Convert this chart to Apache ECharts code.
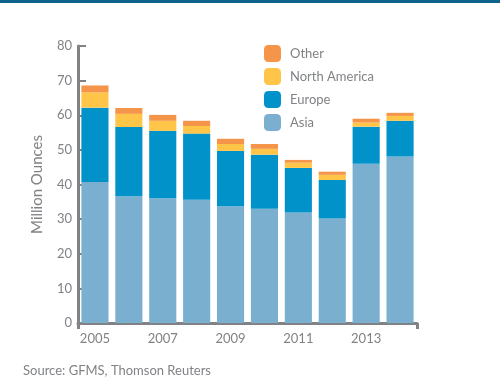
<!DOCTYPE html>
<html>
<head>
<meta charset="utf-8">
<script src="https://cdn.jsdelivr.net/npm/echarts@6/dist/echarts.min.js"></script>
<style>html,body{margin:0;padding:0;background:#fff}#c{width:500px;height:387px}</style>
</head>
<body>
<div id="c"></div>
<script>
const years = ['2005','2006','2007','2008','2009','2010','2011','2012','2013','2014'];
const asia = [40.7, 36.6, 36.0, 35.6, 33.7, 33.0, 31.9, 30.2, 46.0, 48.1];
const europe = [21.5, 20.0, 19.5, 19.1, 16.0, 15.6, 12.9, 11.1, 10.7, 10.3];
const northAmerica = [4.4, 3.8, 2.9, 2.2, 2.0, 1.7, 1.5, 1.5, 1.2, 1.4];
const other = [2.0, 1.7, 1.7, 1.5, 1.5, 1.4, 0.8, 0.9, 1.1, 0.9];
const yTicks = {min: 0, max: 80, interval: 10};

const grey = '#808285';
const font = 'Lato';
const chart = echarts.init(document.getElementById('c'), null, {renderer: 'canvas'});
chart.setOption({
  animation: false,
  textStyle: {fontFamily: font},
  title: {
    text: 'Source: GFMS, Thomson Reuters',
    left: 18, top: 359,
    textStyle: {fontSize: 13, fontWeight: 'normal', color: grey, fontFamily: font}
  },
  graphic: [{type: 'rect', left: 0, top: 0, shape: {width: 500, height: 3}, style: {fill: '#0E628C'}}],
  legend: {
    orient: 'vertical', left: 259, top: 40,
    itemWidth: 17, itemHeight: 17, itemGap: 6,
    data: ['Other', 'North America', 'Europe', 'Asia'],
    textStyle: {fontSize: 13, color: grey, fontFamily: font, padding: [0,0,0,4]}
  },
  grid: {left: 78, right: 83, top: 46, bottom: 64},
  xAxis: [{
    type: 'category', data: years,
    axisLine: {lineStyle: {color: grey, width: 3}},
    axisTick: {interval: 1, alignWithLabel: true, length: 6, lineStyle: {color: grey, width: 3}},
    axisLabel: {interval: 1, color: grey, fontSize: 13, margin: 9, fontFamily: font}
  }, {
    type: 'value', min: 0, max: 10, interval: 10, position: 'bottom',
    axisLine: {show: false}, splitLine: {show: false},
    axisTick: {show: true, length: 6, lineStyle: {color: grey, width: 3}},
    axisLabel: {show: false}
  }],
  yAxis: {
    type: 'value', min: yTicks.min, max: yTicks.max, interval: yTicks.interval,
    name: 'Million Ounces', nameLocation: 'middle', nameGap: 33,
    nameTextStyle: {color: grey, fontSize: 15, fontFamily: font},
    axisLine: {show: true, lineStyle: {color: grey, width: 3}},
    axisTick: {show: true, inside: true, length: 8, lineStyle: {color: grey, width: 2}},
    axisLabel: {color: grey, fontSize: 13, margin: 6, fontFamily: font},
    splitLine: {show: false}
  },
  series: [
    {name: 'Asia', type: 'bar', stack: 's', data: asia, barCategoryGap: '20%', itemStyle: {color: '#7BAFD0'}},
    {name: 'Europe', type: 'bar', stack: 's', data: europe, itemStyle: {color: '#0092C8'}},
    {name: 'North America', type: 'bar', stack: 's', data: northAmerica, itemStyle: {color: '#FFC548'}},
    {name: 'Other', type: 'bar', stack: 's', data: other, itemStyle: {color: '#F4954A'}}
  ]
});
</script>
</body>
</html>
